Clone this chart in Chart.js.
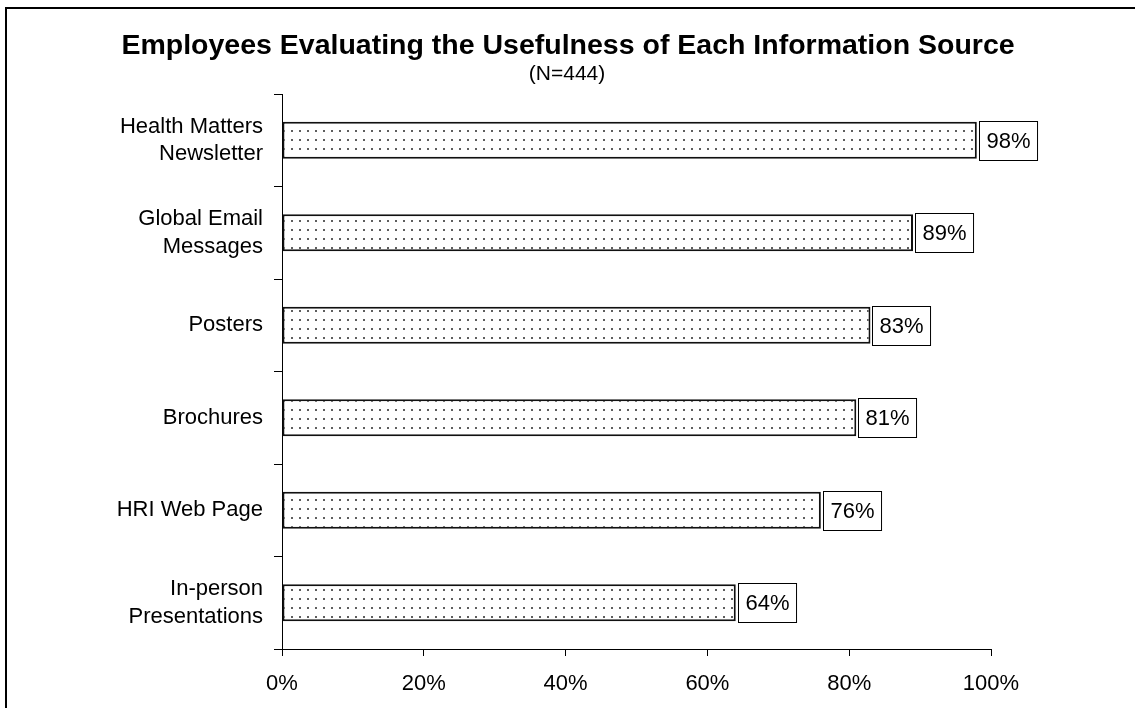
<!DOCTYPE html>
<html>
<head>
<meta charset="utf-8">
<title>Employees Evaluating the Usefulness of Each Information Source</title>
<script src="https://cdn.jsdelivr.net/npm/chart.js@4/dist/chart.umd.min.js"></script>
<style>
  html, body { margin: 0; padding: 0; background: #ffffff; }
  #wrap { width: 1135px; height: 708px; }
</style>
</head>
<body>
<div id="wrap"><canvas id="chart" width="1135" height="708"></canvas></div>
<script>
// Survey results
const sources = [
  ['Health Matters', 'Newsletter'],
  ['Global Email', 'Messages'],
  'Posters',
  'Brochures',
  'HRI Web Page',
  ['In-person', 'Presentations']
];
const usefulPct = [98, 89, 83, 81, 76, 64];
const xTicks = [0, 20, 40, 60, 80, 100];

const titleText = 'Employees Evaluating the Usefulness of Each Information Source';
const subtitleText = '(N=444)';

const FONT = '"Liberation Sans", Arial, Helvetica, sans-serif';

// Dotted fill for the bars
function makeDotPattern() {
  const tile = document.createElement('canvas');
  tile.width = 8;
  tile.height = 9;
  const t = tile.getContext('2d');
  t.fillStyle = '#ffffff';
  t.fillRect(0, 0, 8, 9);
  t.fillStyle = '#5e5e5e';
  t.fillRect(3, 4, 2, 2);
  return t.createPattern(tile, 'repeat');
}

// Frame, title and subtitle
const framePlugin = {
  id: 'frame',
  afterDraw(chart) {
    const ctx = chart.ctx;
    ctx.save();
    ctx.strokeStyle = '#000000';
    ctx.lineWidth = 2;
    ctx.strokeRect(6, 8, 1200, 800);
    ctx.fillStyle = '#000000';
    ctx.textAlign = 'center';
    ctx.textBaseline = 'alphabetic';
    ctx.font = 'bold 28.5px ' + FONT;
    ctx.fillText(titleText, 568, 54);
    ctx.font = '21px ' + FONT;
    ctx.fillText(subtitleText, 567, 80);
    ctx.restore();
  }
};

// Boxed value labels at the end of each bar
const valueBoxPlugin = {
  id: 'valueBoxes',
  afterDatasetsDraw(chart) {
    const ctx = chart.ctx;
    const meta = chart.getDatasetMeta(0);
    const values = chart.data.datasets[0].data;
    ctx.save();
    ctx.font = '22px ' + FONT;
    ctx.textAlign = 'left';
    ctx.textBaseline = 'middle';
    meta.data.forEach((bar, i) => {
      const label = values[i] + '%';
      const w = ctx.measureText(label).width + 14;
      const h = 39;
      const x = Math.round(bar.x) + 2;
      const y = Math.round(bar.y - h / 2);
      ctx.fillStyle = '#ffffff';
      ctx.fillRect(x, y, w, h);
      ctx.strokeStyle = '#000000';
      ctx.lineWidth = 1;
      ctx.strokeRect(x + 0.5, y + 0.5, w, h);
      ctx.fillStyle = '#000000';
      ctx.fillText(label, x + 7.5, y + h / 2 + 1);
    });
    ctx.restore();
  }
};

new Chart(document.getElementById('chart'), {
  type: 'bar',
  data: {
    labels: sources,
    datasets: [{
      data: usefulPct,
      backgroundColor: makeDotPattern(),
      borderColor: '#111111',
      borderWidth: 2,
      borderSkipped: false,
      barPercentage: 0.4,
      categoryPercentage: 1.0
    }]
  },
  options: {
    indexAxis: 'y',
    responsive: false,
    animation: false,
    devicePixelRatio: 1,
    layout: { padding: { top: 94, right: 144, bottom: 0, left: 0 } },
    plugins: {
      legend: { display: false },
      title: { display: false },
      tooltip: { enabled: false }
    },
    scales: {
      x: {
        min: 0,
        max: 100,
        afterBuildTicks(scale) {
          scale.ticks = xTicks.map(v => ({ value: v }));
        },
        afterFit(scale) { scale.height = 59; },
        grid: {
          drawOnChartArea: false,
          drawTicks: true,
          tickLength: 7,
          color: '#000000'
        },
        border: { display: true, color: '#000000', width: 1 },
        ticks: {
          autoSkip: false,
          maxRotation: 0,
          padding: 15,
          color: '#000000',
          font: { family: FONT, size: 22 },
          callback: v => v + '%'
        }
      },
      y: {
        afterFit(scale) { scale.width = 282; },
        grid: {
          offset: true,
          drawOnChartArea: false,
          drawTicks: true,
          tickLength: 8,
          color: '#000000'
        },
        border: { display: true, color: '#000000', width: 1 },
        ticks: {
          autoSkip: false,
          padding: 11,
          color: '#000000',
          font: { family: FONT, size: 22, lineHeight: 1.25 }
        }
      }
    }
  },
  plugins: [valueBoxPlugin, framePlugin]
});
</script>
</body>
</html>
